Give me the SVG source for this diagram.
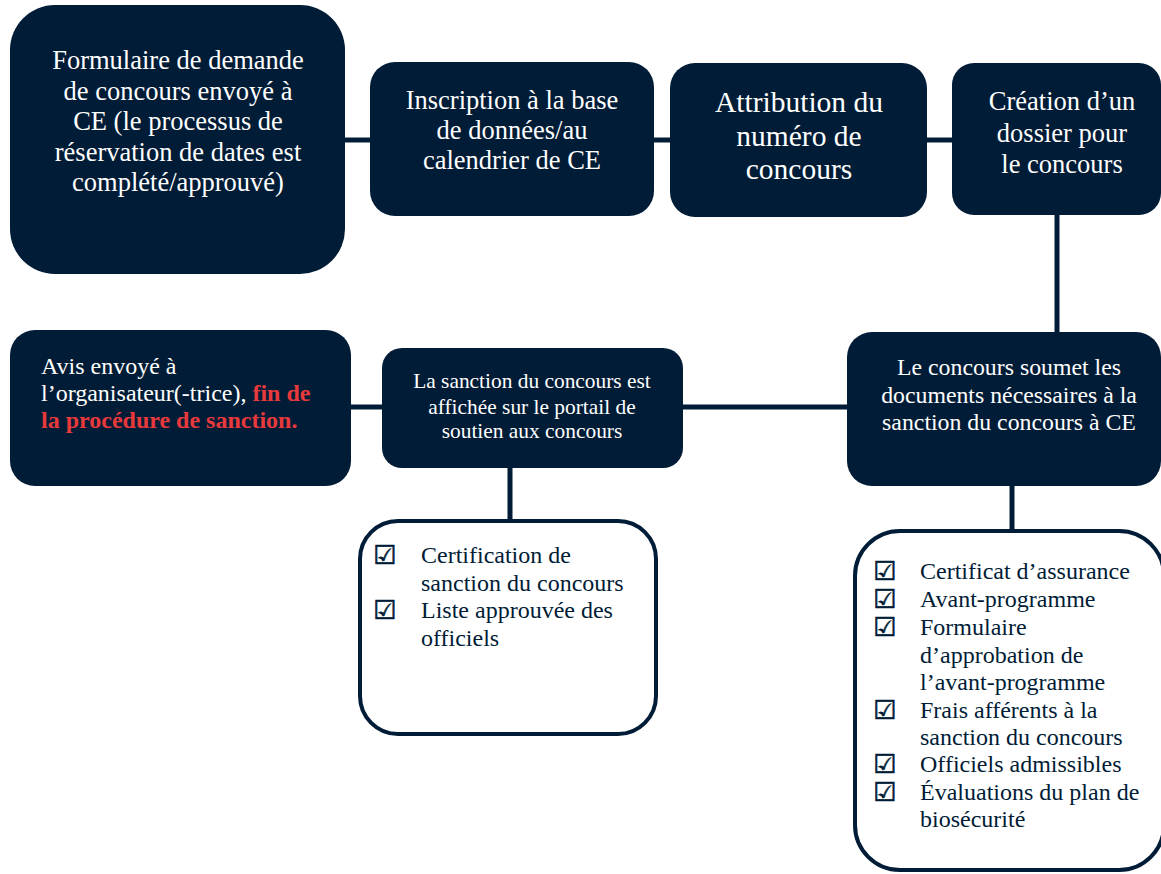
<svg xmlns="http://www.w3.org/2000/svg" width="1161" height="874" viewBox="0 0 1161 874">
<style>
.n{fill:#011c36}
.t{fill:#ffffff;font-family:"Liberation Serif","Times New Roman",serif}
.c{text-anchor:middle}
.red{fill:#e8393c;font-weight:bold}
.list{fill:#ffffff;stroke:#011c36;stroke-width:4}
.lt{fill:#011c36;font-family:"Liberation Serif","Times New Roman",serif;font-size:24px}
.cb{fill:#011c36;stroke:#011c36;stroke-width:0.6;font-family:"DejaVu Sans",sans-serif;font-size:26px}
.ln{stroke:#011c36;stroke-width:5;fill:none}
</style>
<rect width="1161" height="874" fill="#ffffff"/>
<g id="connectors">
<line class="ln" x1="345" y1="140" x2="370" y2="140"/>
<line class="ln" x1="654" y1="140" x2="670" y2="140"/>
<line class="ln" x1="927" y1="140" x2="952" y2="140"/>
<line class="ln" x1="1057" y1="215" x2="1057" y2="333"/>
<line class="ln" x1="351" y1="407" x2="382" y2="407"/>
<line class="ln" x1="683" y1="407" x2="847" y2="407"/>
<line class="ln" x1="510" y1="467" x2="510" y2="521"/>
<line class="ln" x1="1012" y1="485" x2="1012" y2="531"/>
</g>
<g id="n1">
<rect class="n" x="10" y="5" width="335" height="269" rx="45"/>
<text class="t c" font-size="26.5"><tspan x="178" y="69">Formulaire de demande</tspan><tspan x="178" y="99.5">de concours envoyé à</tspan><tspan x="178" y="130">CE (le processus de</tspan><tspan x="178" y="160.5">réservation de dates est</tspan><tspan x="178" y="191">complété/approuvé)</tspan></text>
</g>
<g id="n2">
<rect class="n" x="370" y="62" width="284" height="154" rx="25"/>
<text class="t c" font-size="26.5"><tspan x="512" y="109">Inscription à la base</tspan><tspan x="512" y="139">de données/au</tspan><tspan x="512" y="169">calendrier de CE</tspan></text>
</g>
<g id="n3">
<rect class="n" x="670" y="63" width="257" height="154" rx="25"/>
<text class="t c" font-size="29.5"><tspan x="799" y="112">Attribution du</tspan><tspan x="799" y="146">numéro de</tspan><tspan x="799" y="179">concours</tspan></text>
</g>
<g id="n4">
<rect class="n" x="952" y="63" width="209" height="152" rx="22"/>
<text class="t c" font-size="26.5"><tspan x="1062" y="110">Création d’un</tspan><tspan x="1062" y="142">dossier pour</tspan><tspan x="1062" y="173">le concours</tspan></text>
</g>
<g id="n5">
<rect class="n" x="847" y="332" width="314" height="154" rx="25"/>
<text class="t c" font-size="23.8"><tspan x="1009" y="375">Le concours soumet les</tspan><tspan x="1009" y="403">documents nécessaires à la</tspan><tspan x="1009" y="430">sanction du concours à CE</tspan></text>
</g>
<g id="n6">
<rect class="n" x="382" y="348" width="301" height="120" rx="20"/>
<text class="t c" font-size="21.4"><tspan x="532" y="388">La sanction du concours est</tspan><tspan x="532" y="413.5">affichée sur le portail de</tspan><tspan x="532" y="438">soutien aux concours</tspan></text>
</g>
<g id="n7">
<rect class="n" x="10" y="330" width="341" height="156" rx="25"/>
<text class="t" font-size="24"><tspan x="41" y="374">Avis envoyé à</tspan><tspan x="41" y="401">l’organisateur(-trice), <tspan class="red">fin de</tspan></tspan><tspan x="41" y="428" class="red">la procédure de sanction.</tspan></text>
</g>
<g id="n8">
<rect class="list" x="360" y="521" width="296" height="213" rx="38"/>
<text class="cb" x="373" y="564">☑</text>
<text class="cb" x="373" y="619">☑</text>
<text class="lt"><tspan x="421" y="563">Certification de</tspan><tspan x="421" y="591">sanction du concours</tspan><tspan x="421" y="618">Liste approuvée des</tspan><tspan x="421" y="646">officiels</tspan></text>
</g>
<g id="n9">
<rect class="list" x="855" y="531" width="309" height="339" rx="45"/>
<text class="cb" x="873" y="580">☑</text>
<text class="cb" x="873" y="608">☑</text>
<text class="cb" x="873" y="636">☑</text>
<text class="cb" x="873" y="719">☑</text>
<text class="cb" x="873" y="773">☑</text>
<text class="cb" x="873" y="801">☑</text>
<text class="lt"><tspan x="920" y="579">Certificat d’assurance</tspan><tspan x="920" y="607">Avant-programme</tspan><tspan x="920" y="635">Formulaire</tspan><tspan x="920" y="662.5">d’approbation de</tspan><tspan x="920" y="690">l’avant-programme</tspan><tspan x="920" y="718">Frais afférents à la</tspan><tspan x="920" y="745">sanction du concours</tspan><tspan x="920" y="772">Officiels admissibles</tspan><tspan x="920" y="800">Évaluations du plan de</tspan><tspan x="920" y="827">biosécurité</tspan></text>
</g>
</svg>
